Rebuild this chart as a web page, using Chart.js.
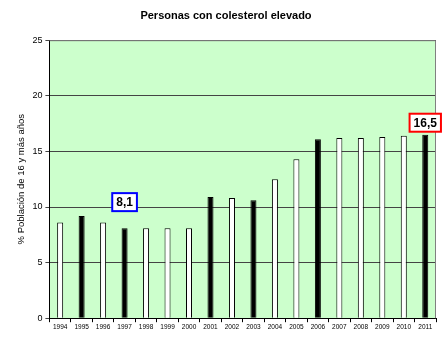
<!DOCTYPE html>
<html>
<head>
<meta charset="utf-8">
<script src="https://cdn.jsdelivr.net/npm/chart.js@4"></script>
<style>
  html, body { margin: 0; padding: 0; background: #fff; }
  #wrap { width: 443px; height: 353px; }
</style>
</head>
<body>
<div id="wrap"><canvas id="chart"></canvas></div>
<script>
// data
const years = ['1994','1995','1996','1997','1998','1999','2000','2001','2002',
               '2003','2004','2005','2006','2007','2008','2009','2010','2011'];
const values = [8.6, 9.2, 8.6, 8.1, 8.1, 8.1, 8.1, 10.9, 10.8,
                10.6, 12.5, 14.3, 16.1, 16.2, 16.2, 16.3, 16.4, 16.5];
const darkYears = ['1995', '1997', '2001', '2003', '2006', '2011'];
const yTicks = [0, 5, 10, 15, 20, 25];
const callouts = [
    { year: '1997', text: '8,1', color: '#0000ff', gap: 17 },
    { year: '2011', text: '16,5', color: '#ff0000', gap: 3 }
];

const barColors = years.map(y => darkYears.includes(y) ? '#000000' : '#ffffff');

// green plot background + grey frame
const plotBackground = {
    id: 'plotBackground',
    beforeDraw(chart) {
        const { ctx, chartArea: a } = chart;
        ctx.save();
        ctx.fillStyle = '#ccffcc';
        ctx.fillRect(a.left, a.top, a.right - a.left, a.bottom - a.top);
        ctx.restore();
    },
    afterDatasetsDraw(chart) {
        const { ctx, chartArea: a } = chart;
        ctx.save();
        ctx.strokeStyle = '#808080';
        ctx.lineWidth = 1;
        ctx.beginPath();
        ctx.moveTo(a.left, a.top + 0.5);
        ctx.lineTo(a.right - 0.5, a.top + 0.5);
        ctx.lineTo(a.right - 0.5, a.bottom);
        ctx.stroke();
        ctx.restore();
    }
};

// boxed value labels above the highlighted bars
const calloutBoxes = {
    id: 'calloutBoxes',
    afterDraw(chart) {
        const { ctx } = chart;
        const meta = chart.getDatasetMeta(0);
        ctx.save();
        ctx.font = 'bold 12px "Liberation Sans", Arial, sans-serif';
        ctx.textAlign = 'center';
        ctx.textBaseline = 'middle';
        callouts.forEach(c => {
            const i = years.indexOf(c.year);
            const bar = meta.data[i];
            const w = ctx.measureText(c.text).width + 8;
            const h = 18;
            const cx = bar.x;
            const bottom = bar.y - c.gap;
            ctx.fillStyle = '#ffffff';
            ctx.fillRect(cx - w / 2, bottom - h, w, h);
            ctx.strokeStyle = c.color;
            ctx.lineWidth = 2;
            ctx.strokeRect(cx - w / 2, bottom - h, w, h);
            ctx.fillStyle = '#000000';
            ctx.fillText(c.text, cx, bottom - h / 2 + 1);
        });
        ctx.restore();
    }
};

new Chart(document.getElementById('chart'), {
    type: 'bar',
    data: {
        labels: years,
        datasets: [{
            data: values,
            backgroundColor: barColors,
            borderColor: '#000000',
            borderWidth: 1,
            borderSkipped: 'bottom',
            barPercentage: 0.28,
            categoryPercentage: 1.0
        }]
    },
    options: {
        responsive: true,
        maintainAspectRatio: false,
        animation: false,
        layout: { padding: { left: 16, right: 7, top: 4, bottom: 21 } },
        plugins: {
            legend: { display: false },
            tooltip: { enabled: false },
            title: {
                display: true,
                text: 'Personas con colesterol elevado',
                color: '#000',
                font: { family: '"Liberation Sans", Arial, sans-serif', size: 11, weight: 'bold' },
                padding: { top: 5, bottom: 18 }
            }
        },
        scales: {
            x: {
                grid: { display: true, drawOnChartArea: false, offset: true, color: '#000', tickLength: 4 },
                border: { color: '#000' },
                ticks: {
                    color: '#000',
                    font: { family: '"Liberation Sans", Arial, sans-serif', size: 6.5 },
                    maxRotation: 0,
                    autoSkip: false,
                    padding: 1
                }
            },
            y: {
                min: 0,
                max: 25,
                afterBuildTicks(axis) { axis.ticks = yTicks.map(v => ({ value: v })); },
                grid: { color: '#444', tickLength: 4 },
                border: { color: '#000' },
                ticks: {
                    color: '#000',
                    font: { family: '"Liberation Sans", Arial, sans-serif', size: 9 },
                    padding: 3
                },
                title: {
                    display: true,
                    text: '% Población de 16 y más años',
                    color: '#000',
                    font: { family: '"Liberation Sans", Arial, sans-serif', size: 9.5 },
                    padding: { top: 0, bottom: 2 }
                }
            }
        }
    },
    plugins: [plotBackground, calloutBoxes]
});
</script>
</body>
</html>
